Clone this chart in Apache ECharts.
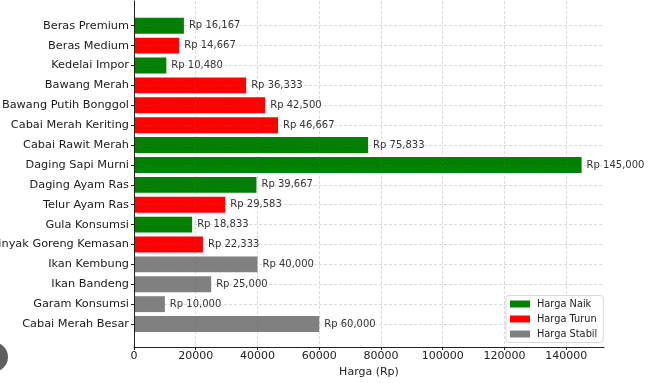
<!DOCTYPE html>
<html><head><meta charset="utf-8">
<script src="https://cdn.jsdelivr.net/npm/echarts@6/dist/echarts.min.js"></script>
<style>html,body{margin:0;padding:0;background:#fff}#c{width:653px;height:383px}</style>
</head><body><div id="c"></div>
<script>
const categories = ["Beras Premium","Beras Medium","Kedelai Impor","Bawang Merah","Bawang Putih Bonggol","Cabai Merah Keriting","Cabai Rawit Merah","Daging Sapi Murni","Daging Ayam Ras","Telur Ayam Ras","Gula Konsumsi","Minyak Goreng Kemasan","Ikan Kembung","Ikan Bandeng","Garam Konsumsi","Cabai Merah Besar"];
const prices = [16167,14667,10480,36333,42500,46667,75833,145000,39667,29583,18833,22333,40000,25000,10000,60000];
const status = ["naik","turun","naik","turun","turun","turun","naik","naik","naik","turun","naik","turun","stabil","stabil","stabil","stabil"];
const statusNames = {naik:"Harga Naik", turun:"Harga Turun", stabil:"Harga Stabil"};
const statusColors = {naik:"#008000", turun:"#ff0000", stabil:"#808080"};
const xTicks = [0,20000,40000,60000,80000,100000,120000,140000];
const xMax = 152250;
const axisName = "Harga (Rp)";

const font = "DejaVu Sans";
const gridCol = "rgba(110,110,110,0.32)";
const fmt = v => "Rp " + Number(v).toLocaleString("en-US");
const series = Object.keys(statusNames).map(k => ({
  name: statusNames[k], type: "bar", xAxisIndex: 0, yAxisIndex: 0, z: 1,
  barWidth: "80%", barGap: "-100%",
  itemStyle: {color: statusColors[k]},
  label: {show: true, position: "right", distance: 5, formatter: p => fmt(p.value),
          fontFamily: font, fontSize: 10, color: "#333"},
  data: prices.map((v, i) => status[i] === k ? v : "-")
}));

const chart = echarts.init(document.getElementById("c"), null, {renderer: "canvas"});
chart.setOption({
  animation: false,
  backgroundColor: "#fff",
  grid: [
    {left: 134, right: 49, top: 15.8, bottom: 49, outerBoundsMode: "none"},
    {left: 134, right: 49, top: 1, bottom: 36, outerBoundsMode: "none"}
  ],
  xAxis: [
    {gridIndex: 0, type: "value", min: 0, max: xMax, show: false},
    {gridIndex: 1, type: "value", min: 0, max: xMax, interval: 20000, z: 5,
     name: axisName, nameLocation: "middle", nameGap: 19,
     nameTextStyle: {fontFamily: font, fontSize: 11, color: "#222"},
     axisLine: {lineStyle: {color: "#222", width: 1}},
     axisTick: {show: true, length: 3, lineStyle: {color: "#222"}},
     axisLabel: {fontFamily: font, fontSize: 11, color: "#222", margin: 4, showMaxLabel: false,
       formatter: v => xTicks.indexOf(v) >= 0 ? String(v) : ""},
     splitLine: {show: true, lineStyle: {type: [3, 2], width: 0.8,
       color: [gridCol,gridCol,gridCol,gridCol,gridCol,gridCol,gridCol,gridCol,"rgba(0,0,0,0)"]}}}
  ],
  yAxis: [
    {gridIndex: 0, type: "category", inverse: true, data: categories, z: 5,
     axisLine: {show: false},
     axisTick: {show: true, alignWithLabel: true, length: 3, lineStyle: {color: "#222"}},
     axisLabel: {fontFamily: font, fontSize: 11.3, color: "#1a1a1a", margin: 5, interval: 0},
     splitLine: {show: true, alignWithLabel: true, lineStyle: {type: [3, 2], width: 0.8, color: gridCol}}},
    {gridIndex: 1, type: "value", min: 0, max: 1, z: 6,
     axisLine: {show: true, lineStyle: {color: "#222", width: 1}},
     axisTick: {show: false}, axisLabel: {show: false}, splitLine: {show: false}}
  ],
  legend: {
    orient: "vertical", left: 506, top: 295.5, z: 10,
    data: Object.values(statusNames),
    icon: "rect", itemWidth: 20, itemHeight: 7, itemGap: 4,
    padding: [3, 6, 3, 4],
    backgroundColor: "rgba(255,255,255,0.85)", borderColor: "#d8d8d8", borderWidth: 1, borderRadius: 3,
    textStyle: {fontFamily: font, fontSize: 9.8, color: "#222", lineHeight: 11, padding: [0, 0, 0, 2]}
  },
  graphic: [{type: "circle", shape: {cx: -7, cy: 357, r: 15}, style: {fill: "#5f5f5f"}, z: 100}],
  series: series
});
</script></body></html>
